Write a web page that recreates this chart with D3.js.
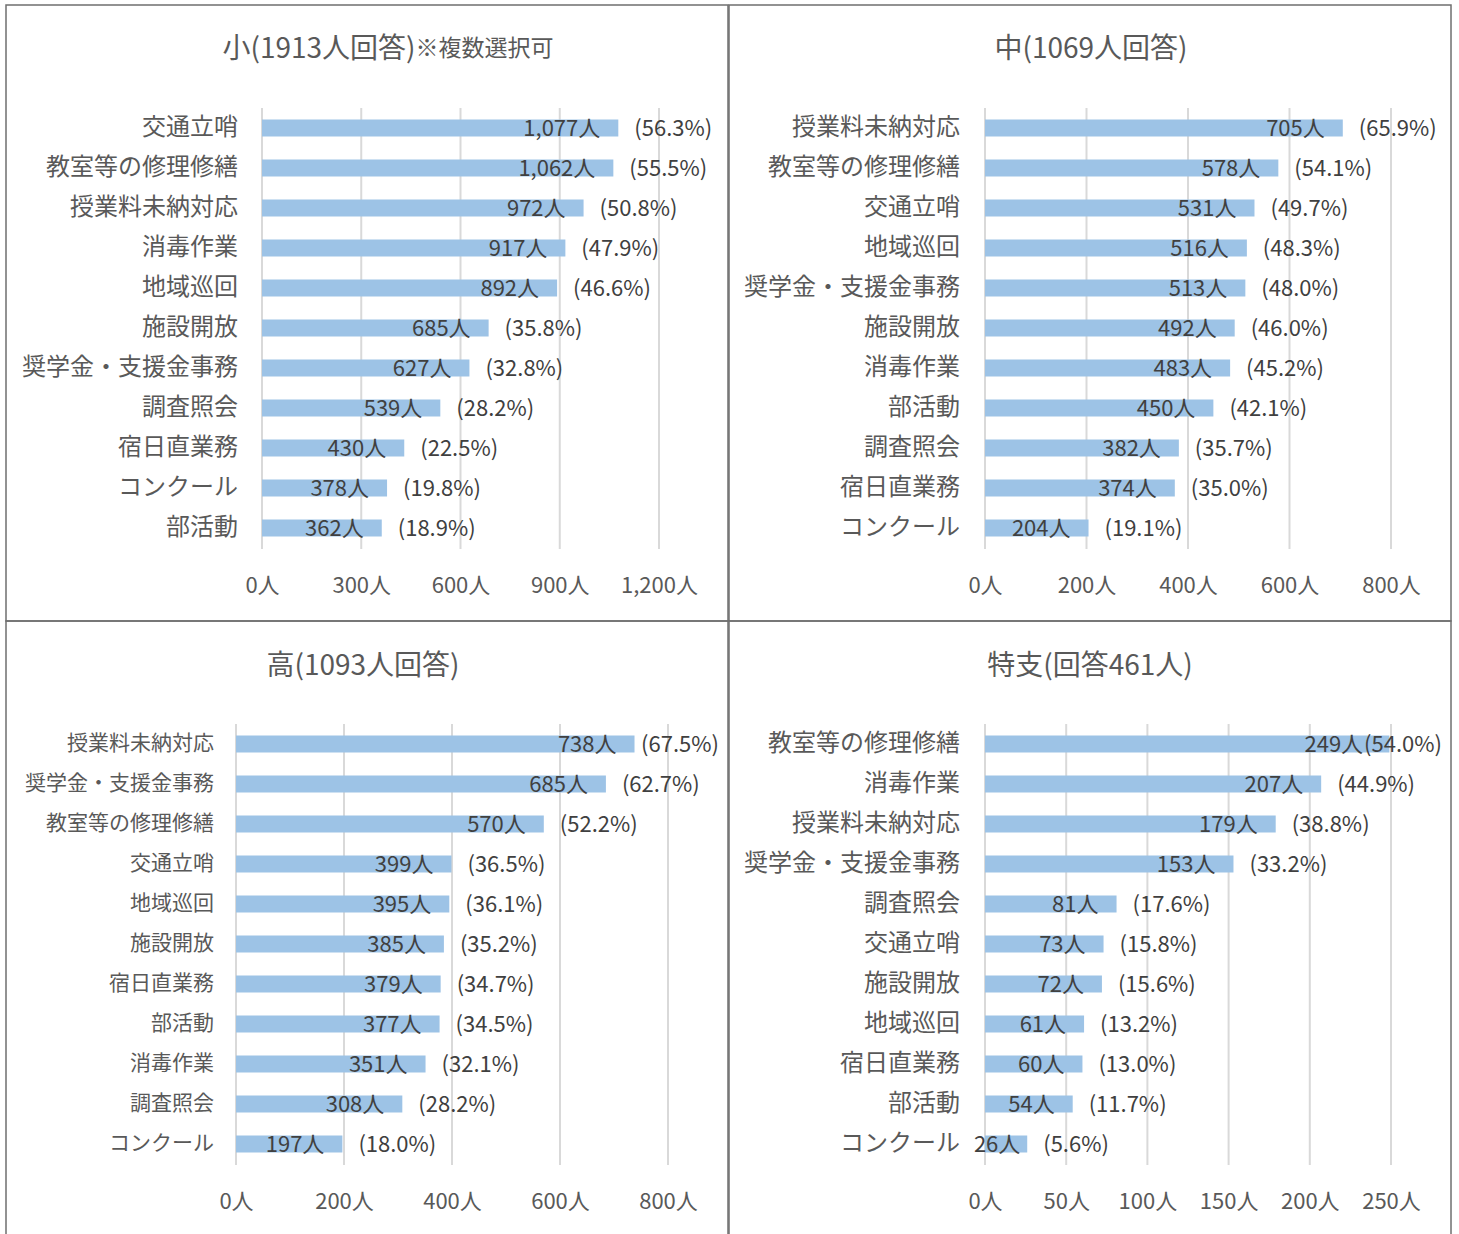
<!DOCTYPE html>
<html>
<head>
<meta charset="utf-8">
<script src="https://cdn.jsdelivr.net/npm/d3@7"></script>
<style>
  html, body { margin: 0; padding: 0; background: #fff; }
  svg { display: block; }
  text { font-family: "Noto Sans CJK JP", "Noto Sans", sans-serif; }
</style>
</head>
<body>
<svg id="chart" width="1459" height="1234"></svg>
<script>
// 小学校 (1913人回答)
const shoCategories = ["交通立哨", "教室等の修理修繕", "授業料未納対応", "消毒作業", "地域巡回", "施設開放", "奨学金・支援金事務", "調査照会", "宿日直業務", "コンクール", "部活動"];
const shoCounts = [1077, 1062, 972, 917, 892, 685, 627, 539, 430, 378, 362];
const shoPercents = [56.3, 55.5, 50.8, 47.9, 46.6, 35.8, 32.8, 28.2, 22.5, 19.8, 18.9];
const shoTicks = [0, 300, 600, 900, 1200];

// 中学校 (1069人回答)
const chuCategories = ["授業料未納対応", "教室等の修理修繕", "交通立哨", "地域巡回", "奨学金・支援金事務", "施設開放", "消毒作業", "部活動", "調査照会", "宿日直業務", "コンクール"];
const chuCounts = [705, 578, 531, 516, 513, 492, 483, 450, 382, 374, 204];
const chuPercents = [65.9, 54.1, 49.7, 48.3, 48.0, 46.0, 45.2, 42.1, 35.7, 35.0, 19.1];
const chuTicks = [0, 200, 400, 600, 800];

// 高校 (1093人回答)
const koCategories = ["授業料未納対応", "奨学金・支援金事務", "教室等の修理修繕", "交通立哨", "地域巡回", "施設開放", "宿日直業務", "部活動", "消毒作業", "調査照会", "コンクール"];
const koCounts = [738, 685, 570, 399, 395, 385, 379, 377, 351, 308, 197];
const koPercents = [67.5, 62.7, 52.2, 36.5, 36.1, 35.2, 34.7, 34.5, 32.1, 28.2, 18.0];
const koTicks = [0, 200, 400, 600, 800];

// 特別支援学校 (回答461人)
const tokuCategories = ["教室等の修理修繕", "消毒作業", "授業料未納対応", "奨学金・支援金事務", "調査照会", "交通立哨", "施設開放", "地域巡回", "宿日直業務", "部活動", "コンクール"];
const tokuCounts = [249, 207, 179, 153, 81, 73, 72, 61, 60, 54, 26];
const tokuPercents = [54.0, 44.9, 38.8, 33.2, 17.6, 15.8, 15.6, 13.2, 13.0, 11.7, 5.6];
const tokuTicks = [0, 50, 100, 150, 200, 250];

const titles = [
  ["小(1913人回答)", "※複数選択可"],
  ["中(1069人回答)", ""],
  ["高(1093人回答)", ""],
  ["特支(回答461人)", ""]
];

// Panel frames, plot areas and category label sizes
const layout = [
  { box: [6, 5, 722, 616],     plotX: [262, 659],  plotY: [108, 548],  titleX: 388,  titleY: 48,  catSize: 24, catGap: 24 },
  { box: [729, 5, 722, 616],   plotX: [985, 1391], plotY: [108, 548],  titleX: 1091, titleY: 48,  catSize: 24, catGap: 25 },
  { box: [6, 621, 722, 640],   plotX: [236, 668],  plotY: [724, 1164], titleX: 363,  titleY: 665, catSize: 21, catGap: 22 },
  { box: [729, 621, 722, 640], plotX: [985, 1391], plotY: [724, 1164], titleX: 1090, titleY: 665, catSize: 24, catGap: 25 }
];

const series = [
  { cats: shoCategories, counts: shoCounts, pcts: shoPercents, ticks: shoTicks },
  { cats: chuCategories, counts: chuCounts, pcts: chuPercents, ticks: chuTicks },
  { cats: koCategories, counts: koCounts, pcts: koPercents, ticks: koTicks },
  { cats: tokuCategories, counts: tokuCounts, pcts: tokuPercents, ticks: tokuTicks }
];

const BAR = "#9dc3e6";
const GRID = "#d9d9d9";
const LABEL = "#595959";
const VALUE = "#404040";
const LIFT = -2.5; // optical centring of CJK glyphs

const svg = d3.select("#chart");
const fmt = d3.format(",");

series.forEach((s, i) => {
  const L = layout[i];
  const g = svg.append("g");

  const x = d3.scaleLinear()
    .domain([0, s.ticks[s.ticks.length - 1]])
    .range(L.plotX);
  const pad = 1 - 17 / ((L.plotY[1] - L.plotY[0]) / s.cats.length);
  const y = d3.scaleBand()
    .domain(s.cats)
    .range(L.plotY)
    .paddingInner(pad)
    .paddingOuter(pad / 2);

  // frame
  g.append("rect")
    .attr("x", L.box[0]).attr("y", L.box[1])
    .attr("width", L.box[2]).attr("height", L.box[3])
    .attr("fill", "none")
    .attr("stroke", "#6f6f6f")
    .attr("stroke-width", 1.5);

  // title
  const t = g.append("text")
    .attr("x", L.titleX).attr("y", L.titleY + LIFT)
    .attr("text-anchor", "middle")
    .attr("dominant-baseline", "central")
    .attr("fill", LABEL);
  t.append("tspan").attr("font-size", 28).text(titles[i][0]);
  if (titles[i][1]) t.append("tspan").attr("font-size", 23).text(titles[i][1]);

  // vertical gridlines
  g.append("g")
    .selectAll("line")
    .data(s.ticks)
    .join("line")
    .attr("x1", d => x(d)).attr("x2", d => x(d))
    .attr("y1", L.plotY[0]).attr("y2", L.plotY[1] + 1)
    .attr("stroke", GRID)
    .attr("stroke-width", 2);

  // x axis tick labels
  const xAxis = d3.axisBottom(x)
    .tickValues(s.ticks)
    .tickFormat(d => fmt(d) + "人")
    .tickSize(0)
    .tickPadding(0);
  const ax = g.append("g")
    .attr("transform", `translate(0,${L.plotY[1] + 37 + LIFT})`)
    .call(xAxis);
  ax.select(".domain").remove();
  ax.selectAll("text")
    .attr("font-family", "\"Noto Sans CJK JP\", sans-serif")
    .attr("font-size", 22)
    .attr("fill", LABEL)
    .attr("dy", null)
    .attr("dominant-baseline", "central");

  // category labels
  const yAxis = d3.axisLeft(y).tickSize(0).tickPadding(0);
  const ay = g.append("g")
    .attr("transform", `translate(${L.plotX[0] - L.catGap},${LIFT - 1})`)
    .call(yAxis);
  ay.select(".domain").remove();
  ay.selectAll("text")
    .attr("font-family", "\"Noto Sans CJK JP\", sans-serif")
    .attr("font-size", L.catSize)
    .attr("fill", LABEL)
    .attr("dy", null)
    .attr("dominant-baseline", "central");

  const rows = s.cats.map((c, k) => ({ cat: c, count: s.counts[k], pct: s.pcts[k] }));

  // bars
  g.append("g")
    .selectAll("rect")
    .data(rows)
    .join("rect")
    .attr("x", x(0))
    .attr("y", d => y(d.cat))
    .attr("width", d => x(d.count) - x(0))
    .attr("height", y.bandwidth())
    .attr("fill", BAR);

  // count labels at the inner end of each bar, percentages beyond it
  const rightLimit = L.box[0] + L.box[2] - 9;
  const labels = g.append("g");
  rows.forEach(d => {
    const cy = y(d.cat) + y.bandwidth() / 2 + LIFT;
    const end = x(d.count);

    const p = labels.append("text")
      .attr("y", cy)
      .attr("dominant-baseline", "central")
      .attr("font-size", 22)
      .attr("fill", VALUE)
      .text(`(${d.pct.toFixed(1)}%)`);
    const pw = p.node().getComputedTextLength();
    let px = end + 16;
    if (px + pw > rightLimit) px = rightLimit - pw;
    p.attr("x", px);

    const v = labels.append("text")
      .attr("y", cy)
      .attr("dominant-baseline", "central")
      .attr("font-size", 22)
      .attr("fill", VALUE)
      .text(fmt(d.count) + "人");
    const w = v.node().getComputedTextLength();
    const full = w + 18;
    let vx;
    if (full + 2 > end - x(0)) {
      vx = (x(0) + end) / 2 - full / 2;
    } else {
      vx = end - full;
    }
    if (vx + w > px - 1) vx = px - 1 - w;
    v.attr("x", vx);
  });
});
</script>
</body>
</html>
